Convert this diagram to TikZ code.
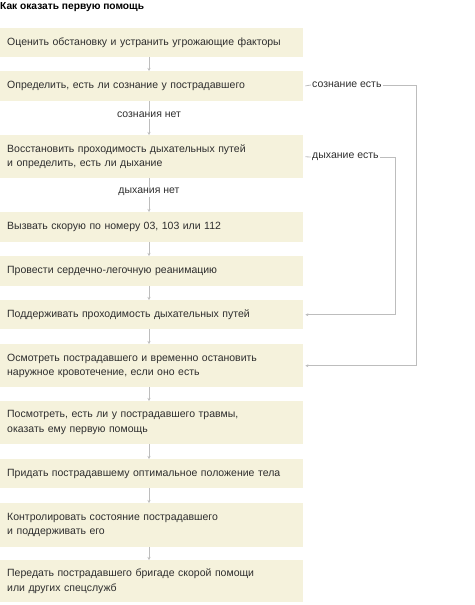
\documentclass[tikz,border=0pt]{standalone}
\usepackage{fontspec}
\setmainfont{Liberation Sans}
\usetikzlibrary{arrows.meta}
\definecolor{boxfill}{HTML}{F5F2DC}
\definecolor{inkgray}{HTML}{2E2E2E}
\definecolor{linegray}{HTML}{BDBDBD}
\tikzset{
  stepbox/.style = {fill=boxfill, anchor=north west, text width=289pt, inner xsep=7pt, inner ysep=0pt, align=left, font=\fontsize{10.5}{14.5}\selectfont, text=inkgray},
  branch/.style = {font=\fontsize{10.5}{13}\selectfont, text=inkgray, inner sep=1pt},
  link/.style = {draw=linegray, line width=0.8pt, -{Stealth[length=3pt,width=3pt]}}
}
\begin{document}
\begin{tikzpicture}[x=1pt,y=1pt]
\useasboundingbox (0,0) rectangle (474,-605);

\node[anchor=west, font=\bfseries\fontsize{10.2}{12}\selectfont, inner sep=0pt] (title) at (0,-7) {Как оказать первую помощь};

\node[stepbox, minimum height=29pt] (s1) at (0,-28) {Оценить обстановку и устранить угрожающие факторы};
\node[stepbox, minimum height=30pt] (s2) at (0,-71) {Определить, есть ли сознание у пострадавшего};
\node[stepbox, minimum height=43pt] (s3) at (0,-135) {Восстановить проходимость дыхательных путей\\и определить, есть ли дыхание};
\node[stepbox, minimum height=30pt] (s4) at (0,-212) {Вызвать скорую по номеру 03, 103 или 112};
\node[stepbox, minimum height=30pt] (s5) at (0,-256) {Провести сердечно-легочную реанимацию};
\node[stepbox, minimum height=29pt] (s6) at (0,-300) {Поддерживать проходимость дыхательных путей};
\node[stepbox, minimum height=43pt] (s7) at (0,-344) {Осмотреть пострадавшего и временно остановить\\наружное кровотечение, если оно есть};
\node[stepbox, minimum height=43pt] (s8) at (0,-401) {Посмотреть, есть ли у пострадавшего травмы,\\оказать ему первую помощь};
\node[stepbox, minimum height=29pt] (s9) at (0,-459) {Придать пострадавшему оптимальное положение тела};
\node[stepbox, minimum height=44pt] (s10) at (0,-503) {Контролировать состояние пострадавшего\\и поддерживать его};
\node[stepbox, minimum height=42pt] (s11) at (0,-560) {Передать пострадавшего бригаде скорой помощи\\или других спецслужб};

% branch labels
\node[branch] (noconsc) at (149,-115) {сознания нет};
\node[branch] (nobreath) at (149,-192) {дыхания нет};
\node[branch, anchor=west] (consc) at (311,-85) {сознание есть};
\node[branch, anchor=west] (breath) at (311,-157) {дыхание есть};
\coordinate (c1) at (416,-85);
\coordinate (c2) at (395,-157);

% main chain
\draw[link] (s1.south -| 149,0) -- (s2.north -| 149,0);
\draw[draw=linegray, line width=0.8pt] (s2.south -| 149,0) -- (noconsc.north);
\draw[link] (noconsc.south) -- (s3.north -| 149,0);
\draw[draw=linegray, line width=0.8pt] (s3.south -| 149,0) -- (nobreath.north);
\draw[link] (nobreath.south) -- (s4.north -| 149,0);
\foreach \a/\b in {s4/s5, s5/s6, s6/s7, s7/s8, s8/s9, s9/s10, s10/s11}
  \draw[link] (\a.south -| 149,0) -- (\b.north -| 149,0);

% side branches
\draw[draw=linegray, line width=0.8pt, shorten <=2pt] (s2.east) -- (consc.west);
\draw[link, shorten >=2pt] (consc.east) -- (c1) |- (s7.east);
\draw[draw=linegray, line width=0.8pt, shorten <=2pt] (s3.east) -- (breath.west);
\draw[link, shorten >=2pt] (breath.east) -- (c2) |- (s6.east);
\end{tikzpicture}
\end{document}
